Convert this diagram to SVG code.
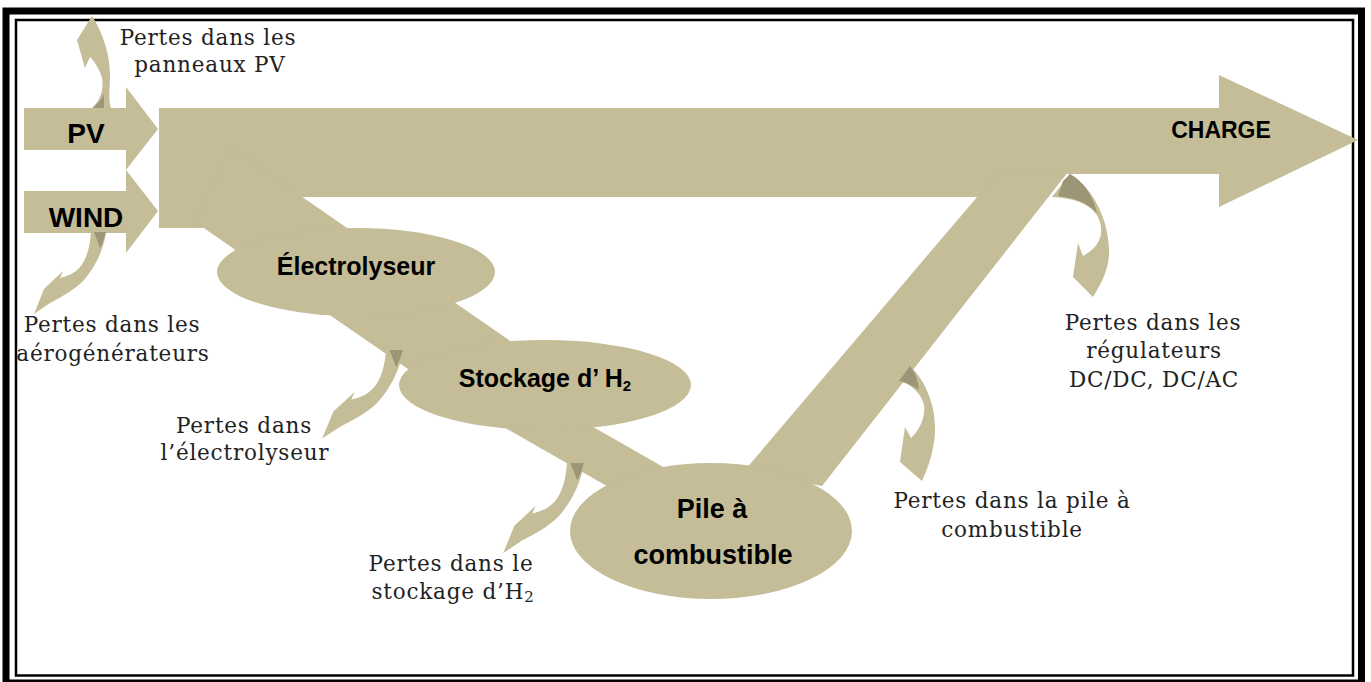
<svg xmlns="http://www.w3.org/2000/svg" xmlns:xlink="http://www.w3.org/1999/xlink" width="1371" height="682" viewBox="0 0 1371 682">
<defs>
<style>
.flow{fill:#C4BD97;stroke:none}
.fold{fill:#9D9676;stroke:none}
.lbl{font-family:"Liberation Sans",Arial,sans-serif;font-weight:bold;fill:#000;text-anchor:middle}
.loss{font-family:"DejaVu Serif","Liberation Serif",serif;font-size:21.5px;letter-spacing:0.8px;fill:#222;text-anchor:middle}
</style>
<path id="curlDL" d="M0,0 C-1,14 -4,27 -11,35 C-17,42 -24,44 -31,46 L-28,39 L-47,57 L-57,82 L-41,71 C-28,64 -17,58 -8,49 C3,37 13,18 15,0 Z"/>
<path id="foldDL" d="M3,0 L15,0 C13,8 11,12 9,16 C7,10 5,5 3,0 Z"/>
</defs>
<rect width="1371" height="682" fill="#fff"/>
<g id="border" fill="none" stroke="#000">
<rect x="6" y="11" width="1355.5" height="672" stroke-width="7"/>
<rect x="16" y="20" width="1337" height="655.5" stroke-width="2.5"/>
</g>
<g id="connectors">
<path class="flow" d="M159,108 L1219,108 L1219,75 L1358,140 L1219,207 L1219,174 L1066,174 L1048,197 L159,197 Z"/>
<rect class="flow" x="159" y="108" width="48" height="120"/>
<path class="flow" d="M230,147 L545,365 L450,398 L195,222 Z"/>
<path class="flow" d="M560,408 L700,488 L640,505 L500,425 Z"/>
<path class="flow" d="M745,470 L1000,170 L1068,172 L822,486 Z"/>
</g>
<g id="node-pv">
<path class="flow" d="M24,108 L126,108 L126,87 L158,129 L126,170 L126,150 L24,150 Z"/>
<text class="lbl" x="86" y="143" font-size="28">PV</text>
</g>
<g id="node-wind">
<path class="flow" d="M24,191 L126,191 L126,170 L158,211 L126,253 L126,233 L24,233 Z"/>
<text class="lbl" x="86" y="227" font-size="28">WIND</text>
</g>
<g id="node-electrolyseur">
<ellipse class="flow" cx="356" cy="272" rx="139" ry="44"/>
<text class="lbl" x="356" y="275" font-size="25">Électrolyseur</text>
</g>
<g id="node-stockage">
<ellipse class="flow" cx="545" cy="385" rx="146" ry="45"/>
<text class="lbl" x="545" y="387" font-size="25">Stockage d’ H<tspan font-size="15" dy="4">2</tspan></text>
</g>
<g id="node-pile">
<ellipse class="flow" cx="711" cy="531" rx="141" ry="68"/>
<text class="lbl" x="712" y="518" font-size="27">Pile à</text>
<text class="lbl" x="713" y="564" font-size="27">combustible</text>
</g>
<g id="node-charge">
<text class="lbl" x="1221" y="138" font-size="23">CHARGE</text>
</g>
<g id="losses">
<g id="loss-pv">
<path class="flow" d="M92,108 C101,100 104,88 102,78 C100,70 95,62 90,57 L85,68 L77,40 L92,16 C103,33 110,55 110,75 C110,90 108,100 111,108 Z"/>
<path class="fold" d="M93,108 C98,103 102,99 104,94 C104,99 104,104 104,108 Z"/>
</g>
<g id="loss-wind" transform="translate(91,232)">
<use xlink:href="#curlDL" class="flow"/>
<use xlink:href="#foldDL" class="fold"/>
</g>
<g id="loss-electrolyseur" transform="translate(386,350) scale(1.12,1.08)">
<use xlink:href="#curlDL" class="flow"/>
<use xlink:href="#foldDL" class="fold"/>
</g>
<g id="loss-stockage" transform="translate(567,463) scale(1.12,1.1)">
<use xlink:href="#curlDL" class="flow"/>
<use xlink:href="#foldDL" class="fold"/>
</g>
<g id="loss-pile">
<path class="flow" d="M899,381 C912,384 922,395 924,405 C926,418 918,432 911,438 L905,427 L900,462 L922,481 C927,470 934,452 935,432 C936,405 925,380 910,366 Z"/>
<path class="fold" d="M899,381 L910,366 C915,372 918,380 919,390 C913,386 906,382 899,381 Z"/>
</g>
<g id="loss-regulateurs">
<path class="flow" d="M1052,197 C1075,198 1095,205 1100,222 C1104,236 1098,248 1083,256 L1078,243 L1073,277 L1093,297 C1100,285 1108,272 1109,255 C1110,225 1096,190 1070,174 Z"/>
<path class="fold" d="M1058,196 L1063,181 L1070,174 C1084,182 1093,196 1097,213 C1088,203 1075,198 1058,196 Z"/>
</g>
</g>
<g id="label-loss-pv">
<text class="loss" x="208" y="45">Pertes dans les</text>
<text class="loss" x="210" y="72">panneaux PV</text>
</g>
<g id="label-loss-wind">
<text class="loss" x="112" y="332">Pertes dans les</text>
<text class="loss" x="113" y="361">aérogénérateurs</text>
</g>
<g id="label-loss-electrolyseur">
<text class="loss" x="244" y="433">Pertes dans</text>
<text class="loss" x="245" y="460">l’électrolyseur</text>
</g>
<g id="label-loss-stockage">
<text class="loss" x="451" y="571">Pertes dans le</text>
<text class="loss" x="453" y="599">stockage d’H<tspan font-size="15" dy="3">2</tspan></text>
</g>
<g id="label-loss-pile">
<text class="loss" x="1012" y="508">Pertes dans la pile à</text>
<text class="loss" x="1012" y="537">combustible</text>
</g>
<g id="label-loss-regulateurs">
<text class="loss" x="1153" y="330">Pertes dans les</text>
<text class="loss" x="1154" y="358">régulateurs</text>
<text class="loss" x="1154" y="387">DC/DC, DC/AC</text>
</g>
</svg>
